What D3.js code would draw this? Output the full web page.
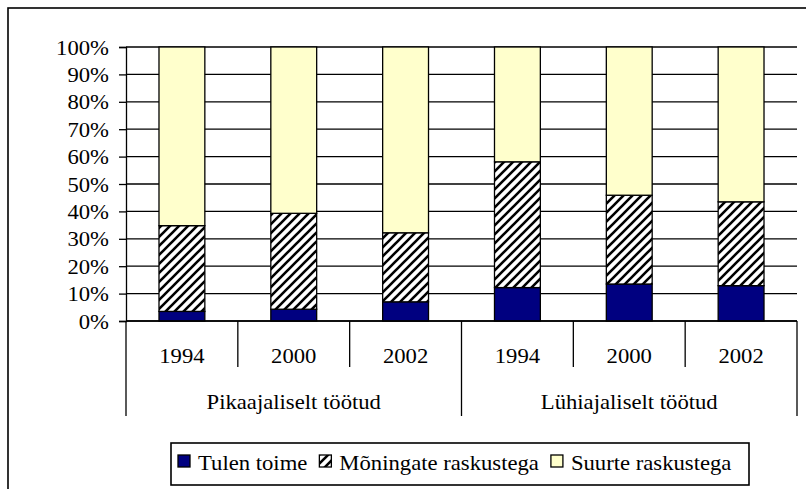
<!DOCTYPE html>
<html>
<head>
<meta charset="utf-8">
<script src="https://cdn.jsdelivr.net/npm/d3@7"></script>
</head>
<body style="margin:0;background:#fff">
<svg id="chart" width="806" height="489"></svg>
<script>
// data
const groups = ["Pikaajaliselt töötud", "Lühiajaliselt töötud"];
const years = ["1994", "2000", "2002"];
const seriesNames = ["Tulen toime", "Mõningate raskustega", "Suurte raskustega"];
const tulenToime = [3.5, 4.3, 7.0, 12.2, 13.5, 12.9];
const moningate = [31.3, 35.0, 25.2, 45.9, 32.4, 30.6];
const suurte = [65.2, 60.7, 67.8, 41.9, 54.1, 56.5];
const yTicks = [0, 10, 20, 30, 40, 50, 60, 70, 80, 90, 100];

const FONT = "Liberation Serif";
const fontSize = 21, stretch = 1.08;

const svg = d3.select("#chart").style("font-family", FONT);

// hatch pattern for middle series
const defs = svg.append("defs");
const pat = defs.append("pattern")
  .attr("id", "hatch")
  .attr("patternUnits", "userSpaceOnUse")
  .attr("width", 9).attr("height", 9);
pat.append("rect").attr("width", 9).attr("height", 9).attr("fill", "#fff");
pat.append("path")
  .attr("d", "M-3,3 L3,-3 M0,9 L9,0 M6,12 L12,6")
  .attr("stroke", "#000").attr("stroke-width", 2.6);

const colors = ["#000080", "url(#hatch)", "#ffffcc"];

// outer frame (runs off the right and bottom edge)
svg.append("rect")
  .attr("x", 8).attr("y", 8).attr("width", 900).attr("height", 600)
  .attr("fill", "none").attr("stroke", "#000").attr("stroke-width", 1.6);

const margin = { left: 126, top: 47, right: 797, bottom: 321 };

// rows for the stack
const cats = [];
groups.forEach(g => years.forEach(y => cats.push(g + "|" + y)));
const rows = cats.map((c, i) => ({
  cat: c,
  [seriesNames[0]]: tulenToime[i],
  [seriesNames[1]]: moningate[i],
  [seriesNames[2]]: suurte[i]
}));
const stacked = d3.stack().keys(seriesNames)(rows);

const x = d3.scaleBand()
  .domain(cats)
  .range([margin.left, margin.right])
  .paddingInner(0.59)
  .paddingOuter(0.295);

const y = d3.scaleLinear()
  .domain([0, 100])
  .range([margin.bottom, margin.top]);

// serif text, slightly widened like the original
function label(sel, tx, ty) {
  sel.style("font-family", FONT)
    .style("font-size", fontSize + "px")
    .attr("fill", "#000")
    .attr("transform", (d, i) => {
      const a = typeof tx === "function" ? tx(d, i) : tx;
      const b = typeof ty === "function" ? ty(d, i) : ty;
      return `translate(${a},${b}) scale(${stretch},1)`;
    });
}

// gridlines
svg.append("g")
  .selectAll("line")
  .data(yTicks)
  .join("line")
  .attr("x1", margin.left).attr("x2", margin.right)
  .attr("y1", d => y(d)).attr("y2", d => y(d))
  .attr("stroke", "#000").attr("stroke-width", 1.3);

// y axis
const yAxis = svg.append("g")
  .attr("transform", `translate(${margin.left},0)`)
  .call(d3.axisLeft(y).tickValues(yTicks).tickFormat(d => d + "%").tickSize(7).tickPadding(10));
yAxis.attr("font-family", null).attr("font-size", null);
yAxis.select(".domain").attr("stroke-width", 1.3);
yAxis.selectAll(".tick line").attr("stroke-width", 1.3);
yAxis.selectAll(".tick text")
  .attr("x", 0)
  .attr("dy", "0.34em")
  .call(label, -17, 0);

// bars
const layer = svg.append("g")
  .selectAll("g")
  .data(stacked)
  .join("g")
  .attr("fill", (d, i) => colors[i]);

layer.selectAll("rect")
  .data(d => d)
  .join("rect")
  .attr("x", d => x(d.data.cat))
  .attr("width", x.bandwidth())
  .attr("y", d => y(d[1]))
  .attr("height", d => y(d[0]) - y(d[1]))
  .attr("stroke", "#000")
  .attr("stroke-width", 1.3);

// category axis
const step = x.step();
const baseY = margin.bottom;
svg.append("line")
  .attr("x1", margin.left).attr("x2", margin.right)
  .attr("y1", baseY).attr("y2", baseY)
  .attr("stroke", "#000").attr("stroke-width", 1.3);

// boundaries between years, longer ones between groups
const bounds = cats.map(c => x(c) - (step - x.bandwidth()) / 2);
bounds.push(margin.right);
svg.append("g")
  .selectAll("line")
  .data(bounds)
  .join("line")
  .attr("x1", d => d).attr("x2", d => d)
  .attr("y1", baseY)
  .attr("y2", (d, i) => i % years.length === 0 ? 416 : 367)
  .attr("stroke", "#000").attr("stroke-width", 1.3);

// year labels
svg.append("g")
  .selectAll("text")
  .data(cats)
  .join("text")
  .attr("text-anchor", "middle")
  .text(d => d.split("|")[1])
  .call(label, d => x(d) + x.bandwidth() / 2, 363);

// group labels
svg.append("g")
  .selectAll("text")
  .data(groups)
  .join("text")
  .attr("text-anchor", "middle")
  .text(d => d)
  .call(label, (g, i) => (bounds[i * 3] + bounds[i * 3 + 3]) / 2, 409);

// legend
const legend = svg.append("g");
legend.append("rect")
  .attr("x", 171).attr("y", 443).attr("width", 578).attr("height", 42)
  .attr("fill", "#fff").attr("stroke", "#000").attr("stroke-width", 1.6);

let lx = 178;
seriesNames.forEach((name, i) => {
  legend.append("rect")
    .attr("x", lx).attr("y", 455).attr("width", 12).attr("height", 12)
    .attr("fill", colors[i]).attr("stroke", "#000").attr("stroke-width", 1.3);
  lx += 20;
  const t = legend.append("text")
    .text(name)
    .call(label, lx, 470);
  lx += t.node().getComputedTextLength() * stretch + 12;
});
</script>
</body>
</html>
